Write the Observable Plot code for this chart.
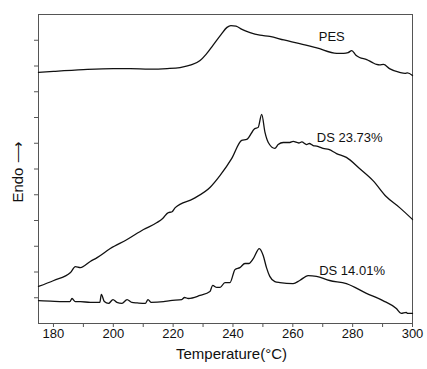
<!DOCTYPE html>
<html>
<head>
<meta charset="utf-8">
<script src="https://cdn.jsdelivr.net/npm/d3@7"></script>
<script src="https://cdn.jsdelivr.net/npm/@observablehq/plot@0.6"></script>
<style>
  html, body { margin: 0; padding: 0; background: #fff; }
  #chart { width: 427px; height: 369px; }
</style>
</head>
<body>
<div id="chart"></div>
<script>
// ---- data (temperature °C, relative heat flow in arbitrary units) ----
const pesT = [175, 180, 190, 200, 205.7, 212, 218, 222.3, 226, 229, 231, 233.3, 236, 238, 239.3, 241, 243, 245.7, 249, 252.3, 257, 262.3, 268, 274.7, 277, 278.5, 279.7, 281, 282.3, 284.7, 286.5, 288, 289, 290.3, 292.3, 295.7, 297.5, 298.3, 300];
const pesV = [9.75, 9.79, 9.86, 9.90, 9.90, 9.88, 9.90, 9.94, 10.04, 10.21, 10.45, 10.80, 11.22, 11.50, 11.57, 11.55, 11.42, 11.30, 11.20, 11.15, 11.01, 10.87, 10.70, 10.49, 10.49, 10.52, 10.60, 10.43, 10.33, 10.25, 10.14, 10.06, 10.04, 10.06, 9.90, 9.75, 9.71, 9.73, 9.63];

const ds23T = [175, 180.1, 185.7, 187.3, 189, 192.3, 194.6, 199, 204.6, 210.1, 214.6, 216.5, 218.4, 219.5, 220.7, 226.8, 232.3, 235.7, 239.6, 242.9, 244.6, 247.3, 248.4, 249.6, 250.7, 251.8, 254, 255.1, 256.8, 259, 260.1, 262, 263, 264.6, 265.5, 266.8, 268, 269, 270.1, 272, 274.6, 277.9, 282.3, 286.8, 291.2, 295.7, 300];
const ds23V = [1.44, 1.67, 1.98, 2.21, 2.17, 2.41, 2.56, 2.91, 3.26, 3.65, 3.92, 4.08, 4.31, 4.33, 4.50, 4.85, 5.28, 5.75, 6.41, 7.11, 7.15, 7.57, 7.61, 8.12, 7.42, 7.03, 6.80, 6.95, 7.03, 7.03, 7.07, 7.01, 7.05, 6.95, 6.99, 6.91, 6.89, 6.85, 6.80, 6.76, 6.60, 6.45, 6.02, 5.55, 4.93, 4.50, 4.04];

const ds14T = [175, 179, 183.4, 185.5, 186.2, 187.3, 189, 192.3, 195.5, 196, 197, 198.4, 199.9, 201.2, 202.9, 204.6, 206.2, 208, 210.7, 211.6, 212.6, 216.8, 219, 222.9, 223.8, 225.1, 229, 232.3, 233.2, 234.6, 235.7, 237.3, 239, 240.7, 242.3, 244, 245.3, 246.8, 248.8, 250.1, 251.2, 252.3, 254, 255.7, 260.1, 262.3, 265.1, 267.9, 272.3, 277.9, 284.6, 290.1, 294.6, 296.2, 297.9, 298.4, 300];
const ds14V = [0.89, 0.87, 0.85, 0.85, 0.97, 0.85, 0.85, 0.82, 0.82, 1.13, 0.85, 0.78, 0.93, 0.82, 0.78, 0.93, 0.82, 0.80, 0.78, 0.93, 0.82, 0.85, 0.89, 0.93, 1.01, 0.97, 1.09, 1.24, 1.48, 1.40, 1.40, 1.59, 1.59, 2.10, 2.17, 2.33, 2.33, 2.52, 2.91, 2.64, 2.17, 1.83, 1.63, 1.59, 1.55, 1.67, 1.86, 1.83, 1.67, 1.55, 1.17, 0.89, 0.58, 0.39, 0.43, 0.39, 0.39];

const labels = ["PES", "DS 23.73%", "DS 14.01%"];
const labelT = [273, 279, 279.8];
const labelV = [11.15, 7.22, 2.06];

const xMajorTicks = [180, 200, 220, 240, 260, 280, 300];
const xMinorTicks = [190, 210, 230, 250, 270, 290];
const yTicks = [1, 2, 3, 4, 5, 6, 7, 8, 9, 10, 11];

const xTitle = "Temperature(°C)";
const yTitle = "Endo ⟶";

// ---- build tables ----
const toRows = (T, V) => T.map((t, i) => ({t, v: V[i]}));
const pes = toRows(pesT, pesV);
const ds23 = toRows(ds23T, ds23V);
const ds14 = toRows(ds14T, ds14V);
const labelRows = labels.map((s, i) => ({s, t: labelT[i], v: labelV[i]}));

const axisColor = "#555";
const lineOpts = {x: "t", y: "v", stroke: "#111", strokeWidth: 1.3, curve: "monotone-x"};

const chart = Plot.plot({
  width: 427,
  height: 369,
  marginLeft: 38,
  marginRight: 15,
  marginTop: 14,
  marginBottom: 46,
  style: {fontFamily: "'Liberation Sans', Arial, sans-serif", fontSize: "13px", color: "#111", background: "#fff"},
  x: {domain: [175, 300]},
  y: {domain: [0, 12]},
  marks: [
    Plot.axisX({ticks: xMajorTicks, tickSize: 4, tickPadding: 1, stroke: axisColor, label: null, fontSize: 13, fill: "#111"}),
    Plot.axisX({ticks: xMinorTicks, tickSize: 4, tickFormat: () => "", stroke: axisColor, label: null}),
    Plot.axisY({ticks: yTicks, tickSize: 4, tickFormat: () => "", stroke: axisColor, label: null}),
    Plot.frame({stroke: axisColor, strokeWidth: 1}),
    Plot.line(pes, lineOpts),
    Plot.line(ds23, lineOpts),
    Plot.line(ds14, lineOpts),
    Plot.text(labelRows, {x: "t", y: "v", text: "s", fontSize: 13, fill: "#111"}),
    Plot.text([xTitle], {frameAnchor: "bottom", lineAnchor: "middle", textAnchor: "middle", dy: 31, dx: 6, fontSize: 15, fill: "#111"}),
    Plot.text([yTitle], {frameAnchor: "left", lineAnchor: "middle", textAnchor: "middle", dx: -20, dy: 3, rotate: -90, fontSize: 15, fill: "#111"})
  ]
});
document.getElementById("chart").appendChild(chart);
</script>
</body>
</html>
